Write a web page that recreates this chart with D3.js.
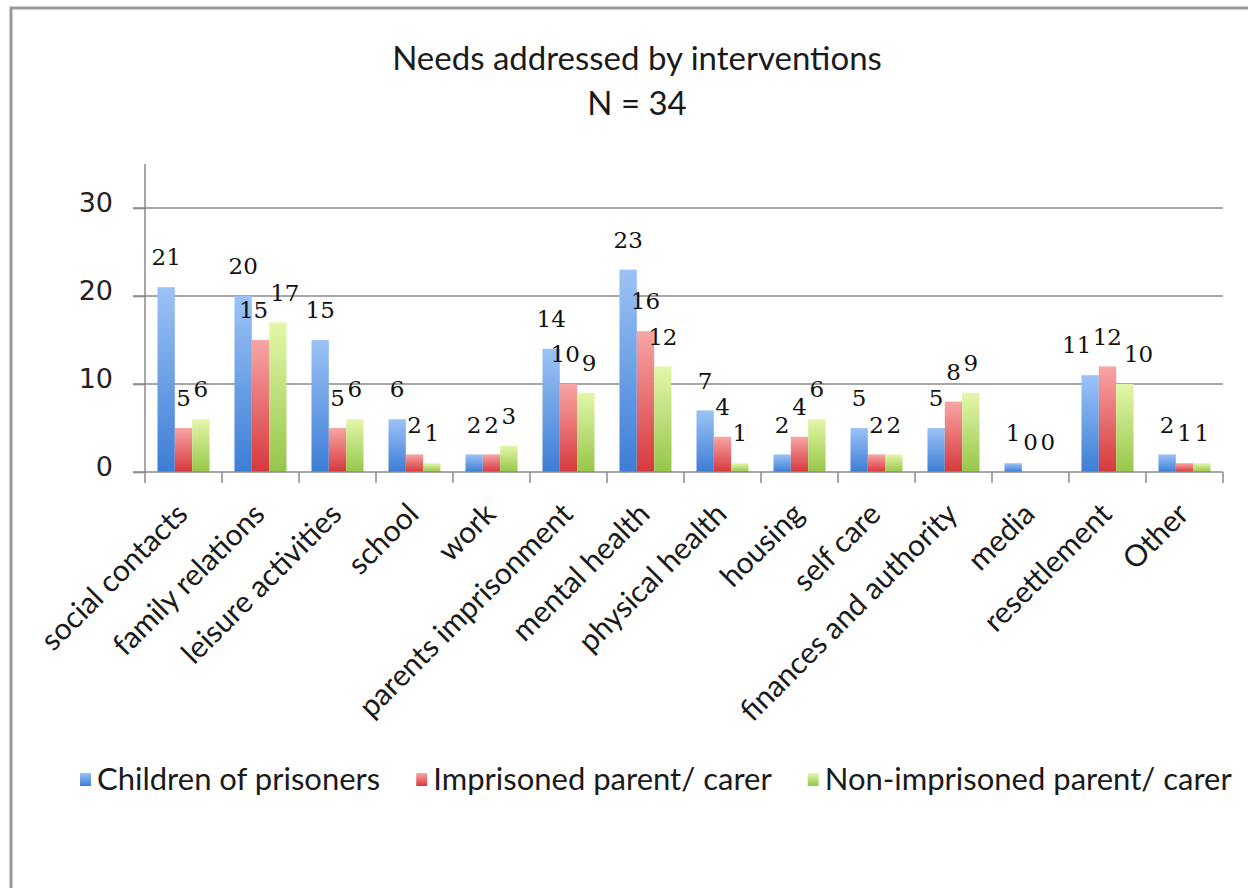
<!DOCTYPE html>
<html>
<head>
<meta charset="utf-8">
<script src="https://cdn.jsdelivr.net/npm/d3@7"></script>
<style>
  html, body { margin: 0; padding: 0; background: #fff; }
  svg { display: block; }
</style>
</head>
<body>
<svg id="chart" width="1248" height="888"></svg>
<script>
// ---- data ----
const categories = ["social contacts", "family relations", "leisure activities", "school", "work",
  "parents imprisonment", "mental health", "physical health", "housing", "self care",
  "finances and authority", "media", "resettlement", "Other"];
const seriesNames = ["Children of prisoners", "Imprisoned parent/ carer", "Non-imprisoned parent/ carer"];
const childrenValues     = [21, 20, 15, 6, 2, 14, 23, 7, 2, 5, 5, 1, 11, 2];
const imprisonedValues   = [5, 15, 5, 2, 2, 10, 16, 4, 4, 2, 8, 0, 12, 1];
const nonImprisonedValues= [6, 17, 6, 1, 3, 9, 12, 1, 6, 2, 9, 0, 10, 1];
const yTicks = [0, 10, 20, 30];
const titleLines = ["Needs addressed by interventions", "N = 34"];

const seriesValues = [childrenValues, imprisonedValues, nonImprisonedValues];

// ---- styles ----
const gradStops = [
  ["#9cc3f6", "#3d7dd5"],
  ["#f8a5a5", "#d6393c"],
  ["#e4f7aa", "#96c64a"]
];
const axisColor = "#8a8a8a";
const sansFont = "Lato, 'Open Sans', sans-serif";
const serifFont = "'DejaVu Serif', serif";

const svg = d3.select("#chart");
const W = 1248, H = 888;

// frame border (only top and left visible)
svg.append("path")
  .attr("d", `M11,${H} V8 H${W}`)
  .attr("fill", "none")
  .attr("stroke", "#9a9a9a")
  .attr("stroke-width", 3);

// gradients
const defs = svg.append("defs");
gradStops.forEach((c, i) => {
  const g = defs.append("linearGradient")
    .attr("id", "grad" + i)
    .attr("x1", 0).attr("y1", 0).attr("x2", 0).attr("y2", 1);
  g.append("stop").attr("offset", "0%").attr("stop-color", c[0]);
  g.append("stop").attr("offset", "100%").attr("stop-color", c[1]);
});

// scales
const plot = { left: 145, right: 1223, top: 164, bottom: 472 };
const x = d3.scaleBand().domain(categories).range([plot.left, plot.right]).paddingInner(0).paddingOuter(0);
const xs = d3.scaleBand().domain(d3.range(seriesNames.length)).range([0, x.bandwidth()])
  .paddingInner(0).paddingOuter(0.72);
const y = d3.scaleLinear().domain([0, 35]).range([plot.bottom, plot.top]);

// title
svg.append("g").selectAll("text")
  .data(titleLines).join("text")
  .attr("x", 637)
  .attr("y", (d, i) => 70 + i * 45)
  .attr("text-anchor", "middle")
  .attr("font-family", sansFont)
  .attr("font-size", 33)
  .attr("fill", "#1a1a1a")
  .text(d => d);

// gridlines (non-zero)
svg.append("g").selectAll("line")
  .data(yTicks.filter(d => d > 0)).join("line")
  .attr("x1", plot.left - 12).attr("x2", plot.right)
  .attr("y1", d => y(d)).attr("y2", d => y(d))
  .attr("stroke", axisColor).attr("stroke-width", 1.5);

// y axis
const yAxis = d3.axisLeft(y).tickValues(yTicks).tickSize(12).tickPadding(20);
const gy = svg.append("g").attr("transform", `translate(${plot.left},0)`).call(yAxis);
gy.select(".domain").attr("stroke", axisColor).attr("stroke-width", 1.5)
  .attr("d", `M-12,${plot.bottom}H0V${plot.top}`);
gy.selectAll(".tick line").attr("stroke", axisColor).attr("stroke-width", 1.5);
gy.selectAll(".tick text")
  .attr("font-family", "'DejaVu Sans', sans-serif")
  .attr("font-size", 27)
  .attr("fill", "#222")
  .attr("dy", "0.12em");

// bars
const groups = svg.append("g").selectAll("g")
  .data(categories).join("g")
  .attr("transform", d => `translate(${x(d)},0)`);

groups.selectAll("rect")
  .data((d, ci) => seriesValues.map((vals, si) => ({ si, v: vals[ci] })))
  .join("rect")
  .attr("x", d => xs(d.si))
  .attr("width", xs.bandwidth())
  .attr("y", d => y(d.v))
  .attr("height", d => y(0) - y(d.v))
  .attr("fill", d => `url(#grad${d.si})`);

// data labels
groups.each(function(d, ci) {
  const g = d3.select(this);
  const labels = g.selectAll("text.lbl")
    .data(seriesValues.map((vals, si) => ({ si, v: vals[ci] })))
    .join("text")
    .attr("class", "lbl")
    .attr("x", e => xs(e.si) + xs.bandwidth() / 2)
    .attr("y", e => y(e.v) - 30)
    .attr("dy", "0.36em")
    .attr("text-anchor", "middle")
    .attr("font-family", serifFont)
    .attr("font-size", 23)
    .attr("fill", "#111")
    .text(e => e.v);
  // simple collision relaxation between neighbouring labels
  const nodes = labels.nodes();
  for (let pass = 0; pass < 6; pass++) {
    for (let i = 0; i < nodes.length - 1; i++) {
      const a = nodes[i].getBBox(), b = nodes[i + 1].getBBox();
      const vOverlap = Math.min(a.y + a.height, b.y + b.height) - Math.max(a.y, b.y);
      const hOverlap = (a.x + a.width) - b.x;
      if (vOverlap > 4 && hOverlap > -1) {
        const s = (hOverlap + 2) / 2;
        const ea = d3.select(nodes[i]), eb = d3.select(nodes[i + 1]);
        ea.attr("x", +ea.attr("x") - s);
        eb.attr("x", +eb.attr("x") + s);
      }
    }
  }
});

// x axis
const xAxis = d3.axisBottom(x).tickSize(0).tickFormat("");
const gx = svg.append("g").attr("transform", `translate(0,${plot.bottom})`).call(xAxis);
gx.select(".domain").attr("stroke", axisColor).attr("stroke-width", 1.5)
  .attr("d", `M${plot.left},0H${plot.right}`);
gx.selectAll(".tick").remove();
const boundaries = categories.map(c => x(c)).concat([plot.right]);
gx.selectAll("line.bt").data(boundaries).join("line")
  .attr("class", "bt")
  .attr("x1", d => d).attr("x2", d => d)
  .attr("y1", 0).attr("y2", 11)
  .attr("stroke", axisColor).attr("stroke-width", 1.5);

// x labels rotated
svg.append("g").selectAll("text")
  .data(categories).join("text")
  .attr("transform", d => `translate(${x(d) + x.bandwidth() / 2 + 6},${plot.bottom + 44}) rotate(-45)`)
  .attr("text-anchor", "end")
  .attr("font-family", sansFont)
  .attr("font-size", 30)
  .attr("fill", "#1a1a1a")
  .text(d => d);

// legend
const legend = svg.append("g").attr("transform", "translate(80,779)");
let lx = 0;
seriesNames.forEach((name, i) => {
  const g = legend.append("g").attr("transform", `translate(${lx},0)`);
  g.append("rect").attr("x", 0).attr("y", -6).attr("width", 11).attr("height", 13)
    .attr("fill", `url(#grad${i})`);
  const t = g.append("text").attr("x", 17).attr("y", 0).attr("dy", "0.35em")
    .attr("font-family", sansFont).attr("font-size", 31).attr("fill", "#1a1a1a")
    .text(name);
  lx += 17 + t.node().getComputedTextLength() + 36;
});
</script>
</body>
</html>
